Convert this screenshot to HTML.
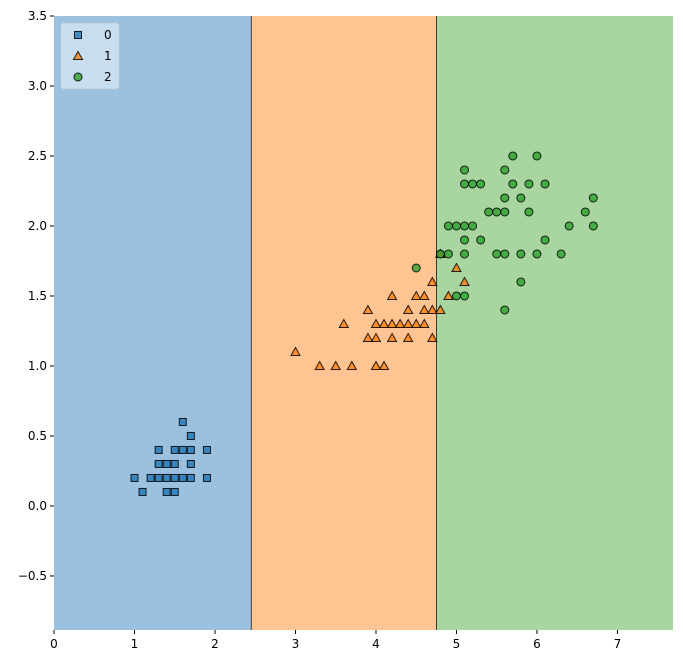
<!DOCTYPE html>
<html><head><meta charset="utf-8"><style>
body{margin:0;background:#fff;font-family:"Liberation Sans","DejaVu Sans",sans-serif}
svg text{font-family:"DejaVu Sans","Liberation Sans",sans-serif;font-size:12px;fill:#000}
</style></head><body>
<svg id="chart" width="683" height="665" xmlns="http://www.w3.org/2000/svg"></svg>
<script>
const classLabels=["0","1","2"];
const boundaries=[2.45,4.75];
const xTicks=[0,1,2,3,4,5,6,7];
const yTicks=[-0.5,0,0.5,1,1.5,2,2.5,3,3.5];
const setosa=[[1.4,.2],[1.3,.2],[1.5,.2],[1.7,.4],[1.4,.3],[1.5,.1],[1.6,.2],[1.4,.1],[1.1,.1],[1.2,.2],[1.5,.4],[1.3,.4],[1.7,.3],[1.5,.3],[1.7,.2],[1.0,.2],[1.7,.5],[1.9,.2],[1.6,.4],[1.3,.3],[1.6,.6],[1.9,.4]];
const versicolor=[[4.7,1.4],[4.5,1.5],[4.9,1.5],[4.0,1.3],[4.6,1.5],[4.5,1.3],[4.7,1.6],[3.3,1.0],[4.6,1.3],[3.9,1.4],[3.5,1.0],[4.2,1.5],[4.0,1.0],[3.6,1.3],[4.4,1.4],[4.1,1.0],[3.9,1.2],[4.8,1.8],[4.7,1.2],[4.3,1.3],[4.8,1.4],[5.0,1.7],[3.7,1.0],[5.1,1.6],[4.4,1.3],[4.1,1.3],[4.4,1.2],[4.6,1.4],[4.0,1.2],[4.2,1.3],[4.2,1.2],[3.0,1.1]];
const virginica=[[6.0,2.5],[5.1,1.9],[5.9,2.1],[5.6,1.8],[5.8,2.2],[6.6,2.1],[4.5,1.7],[6.3,1.8],[5.8,1.8],[5.1,2.0],[5.3,1.9],[5.5,2.1],[5.0,2.0],[5.1,2.4],[5.3,2.3],[5.5,1.8],[6.7,2.2],[5.0,1.5],[5.7,2.3],[4.9,2.0],[6.7,2.0],[4.9,1.8],[6.0,1.8],[4.8,1.8],[5.6,2.1],[5.8,1.6],[6.1,1.9],[6.4,2.0],[5.6,2.2],[5.1,1.5],[5.6,1.4],[6.1,2.3],[5.6,2.4],[5.4,2.1],[5.9,2.3],[5.7,2.5],[5.2,2.3],[5.2,2.0],[5.1,2.3],[5.1,1.8]];
const X0=54,X1=673,Y0=16,Y1=630,xmin=0,xmax=7.69,ymin=-0.886,ymax=3.5;
const sx=v=>X0+(v-xmin)/(xmax-xmin)*(X1-X0);
const sy=v=>Y1-(v-ymin)/(ymax-ymin)*(Y1-Y0);
const svg=document.getElementById('chart');const NS='http://www.w3.org/2000/svg';
function mk(t,a,p){const e=document.createElementNS(NS,t);for(const k in a)e.setAttribute(k,a[k]);(p||svg).appendChild(e);return e;}
const regionColors=['#9bc1de','#fec593','#a8d5a0'];
const edges=[xmin,boundaries[0],boundaries[1],xmax];
for(let i=0;i<3;i++){const r=mk('rect',{x:sx(edges[i]),y:Y0,width:sx(edges[i+1])-sx(edges[i]),height:Y1-Y0,fill:regionColors[i]});

}
boundaries.forEach((b,i)=>{const l=mk('line',{x1:sx(b),x2:sx(b),y1:Y0,y2:Y1,stroke:'#000','stroke-width':0.7});

});
const cols=['#1f77b4','#ff7f0e','#2ca02c'];
function marker(c,x,y,g){const o={'fill-opacity':0.8,'stroke-opacity':0.85,stroke:'#000','stroke-width':1};
if(c==0)return mk('rect',Object.assign({x:x-3.5,y:y-3.5,width:7,height:7,fill:cols[0]},o),g);
if(c==1)return mk('polygon',Object.assign({points:`${x},${y-4.5} ${x+4.5},${y+3.5} ${x-4.5},${y+3.5}`,fill:cols[1]},o),g);
return mk('circle',Object.assign({cx:x,cy:y,r:4,fill:cols[2]},o),g);}
[setosa,versicolor,virginica].forEach((d,c)=>{d.forEach(p=>{const m=marker(c,sx(p[0]),sy(p[1]));

});});
xTicks.forEach(t=>{mk('line',{x1:sx(t),x2:sx(t),y1:Y1,y2:Y1+4,stroke:'#000'});const tx=mk('text',{x:sx(t),y:Y1+18,'text-anchor':'middle'});tx.textContent=t;

});
yTicks.forEach(t=>{mk('line',{x1:X0-4,x2:X0,y1:sy(t),y2:sy(t),stroke:'#000'});const tx=mk('text',{x:X0-7,y:sy(t)+4,'text-anchor':'end'});tx.textContent=(t<0?'\u2212':'')+Math.abs(t).toFixed(1);

});
const lg=mk('g',{});


mk('rect',{x:61,y:23,width:58,height:66,rx:3,fill:'#fff','fill-opacity':0.45,stroke:'#ccc','stroke-opacity':0.5},lg);
classLabels.forEach((l,i)=>{const y=35+i*21;marker(i,78,y,lg);const t=mk('text',{x:104,y:y+4},lg);t.textContent=l;

});
</script>
</body></html>
